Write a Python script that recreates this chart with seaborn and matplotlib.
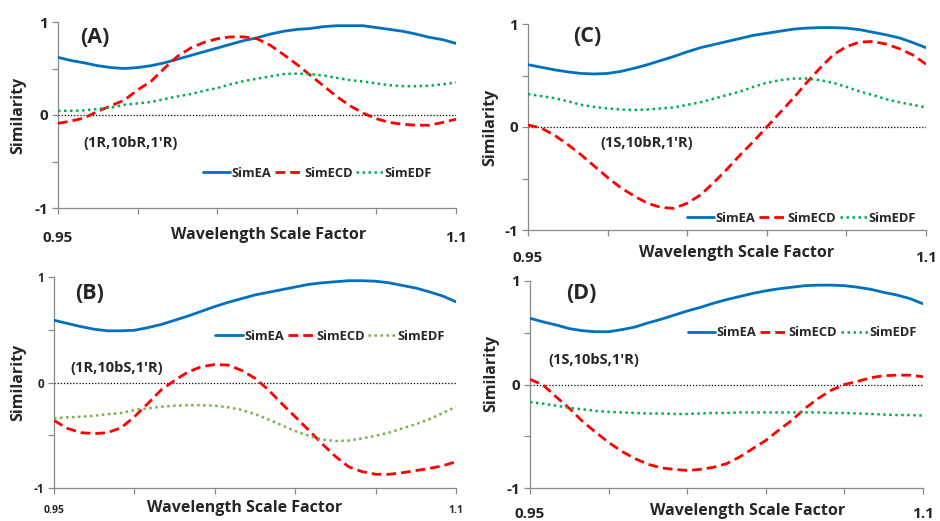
import matplotlib
matplotlib.use("Agg")
import matplotlib.pyplot as plt
from matplotlib.lines import Line2D
import seaborn as sns
import pandas as pd

sns.set_theme(style="white")
plt.rcParams['font.family'] = ['Open Sans', 'DejaVu Sans']

# ---------------- data ----------------
wavelength = [0.950, 0.955, 0.960, 0.965, 0.970, 0.975, 0.980, 0.985, 0.990, 0.995,
              1.000, 1.005, 1.010, 1.015, 1.020, 1.025, 1.030, 1.035, 1.040, 1.045,
              1.050, 1.055, 1.060, 1.065, 1.070, 1.075, 1.080, 1.085, 1.090, 1.095, 1.100]
series_names = ["SimEA", "SimECD", "SimEDF"]

a_ea = [0.62, 0.585, 0.56, 0.53, 0.51, 0.50, 0.51, 0.53, 0.56, 0.60, 0.64, 0.68, 0.72, 0.76, 0.80, 0.83,
        0.87, 0.90, 0.92, 0.93, 0.95, 0.96, 0.96, 0.96, 0.94, 0.92, 0.90, 0.87, 0.835, 0.81, 0.77]
a_ecd = [-0.09, -0.065, -0.03, 0.04, 0.10, 0.16, 0.27, 0.36, 0.50, 0.63, 0.72, 0.78, 0.82, 0.84, 0.84, 0.82,
         0.75, 0.65, 0.545, 0.43, 0.315, 0.20, 0.10, 0.02, -0.04, -0.08, -0.10, -0.11, -0.11, -0.08, -0.045]
a_edf = [0.045, 0.045, 0.05, 0.065, 0.08, 0.11, 0.125, 0.14, 0.17, 0.20, 0.225, 0.26, 0.29, 0.33, 0.365, 0.39,
         0.415, 0.44, 0.445, 0.44, 0.425, 0.40, 0.375, 0.36, 0.34, 0.32, 0.31, 0.31, 0.315, 0.33, 0.35]

b_ea = [0.59, 0.56, 0.53, 0.505, 0.49, 0.49, 0.495, 0.52, 0.55, 0.59, 0.63, 0.675, 0.72, 0.76, 0.795, 0.83,
        0.855, 0.88, 0.905, 0.93, 0.945, 0.955, 0.965, 0.965, 0.96, 0.945, 0.92, 0.895, 0.86, 0.82, 0.765]
b_ecd = [-0.36, -0.435, -0.475, -0.485, -0.475, -0.43, -0.325, -0.20, -0.07, 0.02, 0.10, 0.15, 0.17, 0.165,
         0.115, 0.04, -0.07, -0.20, -0.325, -0.45, -0.58, -0.70, -0.80, -0.845, -0.87, -0.87, -0.855, -0.835,
         -0.815, -0.79, -0.75]
b_edf = [-0.34, -0.33, -0.325, -0.315, -0.30, -0.29, -0.26, -0.245, -0.23, -0.22, -0.215, -0.215, -0.22,
         -0.235, -0.26, -0.30, -0.35, -0.405, -0.46, -0.505, -0.54, -0.555, -0.55, -0.53, -0.505, -0.475,
         -0.435, -0.395, -0.35, -0.29, -0.23]

c_ea = [0.605, 0.58, 0.555, 0.535, 0.52, 0.515, 0.52, 0.54, 0.57, 0.605, 0.645, 0.685, 0.73, 0.77, 0.80, 0.83,
        0.86, 0.89, 0.91, 0.93, 0.95, 0.96, 0.965, 0.965, 0.96, 0.945, 0.92, 0.895, 0.865, 0.82, 0.77]
c_ecd = [0.02, -0.01, -0.08, -0.17, -0.27, -0.38, -0.49, -0.59, -0.67, -0.74, -0.78, -0.79, -0.74, -0.66,
         -0.54, -0.41, -0.27, -0.14, 0.0, 0.14, 0.28, 0.43, 0.57, 0.70, 0.78, 0.825, 0.83, 0.805, 0.76, 0.70, 0.61]
c_edf = [0.32, 0.30, 0.28, 0.25, 0.215, 0.195, 0.18, 0.17, 0.165, 0.17, 0.18, 0.19, 0.215, 0.24, 0.275, 0.31,
         0.345, 0.39, 0.43, 0.455, 0.47, 0.47, 0.455, 0.43, 0.39, 0.345, 0.31, 0.27, 0.24, 0.215, 0.19]

d_ea = [0.64, 0.605, 0.575, 0.54, 0.52, 0.51, 0.51, 0.53, 0.555, 0.595, 0.63, 0.67, 0.71, 0.745, 0.785, 0.82,
        0.85, 0.88, 0.905, 0.925, 0.94, 0.955, 0.96, 0.96, 0.955, 0.94, 0.92, 0.89, 0.865, 0.83, 0.78]
d_ecd = [0.05, -0.005, -0.12, -0.23, -0.355, -0.46, -0.56, -0.645, -0.715, -0.77, -0.805, -0.82, -0.83, -0.82,
         -0.80, -0.765, -0.70, -0.62, -0.54, -0.44, -0.345, -0.23, -0.135, -0.055, 0.0, 0.03, 0.065, 0.085,
         0.09, 0.09, 0.075]
d_edf = [-0.17, -0.185, -0.205, -0.225, -0.24, -0.255, -0.265, -0.27, -0.275, -0.28, -0.28, -0.285, -0.285,
         -0.28, -0.275, -0.275, -0.27, -0.27, -0.27, -0.27, -0.27, -0.27, -0.27, -0.275, -0.275, -0.28, -0.285,
         -0.29, -0.295, -0.295, -0.30]

panel_labels = ["(A)", "(B)", "(C)", "(D)"]
isomer_labels = ["(1R,10bR,1'R)", "(1R,10bS,1'R)", "(1S,10bR,1'R)", "(1S,10bS,1'R)"]
x_tick_values = [0.95, 0.98, 1.01, 1.04, 1.07, 1.10]
x_tick_labels = ["0.95", "", "", "", "", "1.1"]
y_tick_values = [-1, -0.5, 0, 0.5, 1]
y_tick_labels = ["-1", "", "0", "", "1"]

panels = {
    "(A)": (a_ea, a_ecd, a_edf),
    "(B)": (b_ea, b_ecd, b_edf),
    "(C)": (c_ea, c_ecd, c_edf),
    "(D)": (d_ea, d_ecd, d_edf),
}

# ---------------- layout (pixels) ----------------
W, H = 940, 521
layout = {
    # x0, x1, ytop, ybot
    "(A)": (58, 456, 22, 208),
    "(B)": (54, 456, 277, 488),
    "(C)": (528, 926, 24, 230),
    "(D)": (530, 923, 281, 488),
}
style = {
    "(A)": dict(xtick_fs=11, xtick_pad=12.5, ytick_fs=11, xlab=(0.528, -0.145), ylab=(-0.10, 0.5),
                leg=(0.652, 0.188), pl=(0.093, 0.914), iso=(0.182, 0.349), edf_color="#00B050"),
    "(B)": dict(xtick_fs=7.5, xtick_pad=8.5, ytick_fs=8.5, xlab=(0.475, -0.095), ylab=(-0.09, 0.5),
                leg=(0.687, 0.72), pl=(0.088, 0.924), iso=(0.157, 0.569), edf_color="#77B144"),
    "(C)": dict(xtick_fs=11, xtick_pad=11, ytick_fs=11, xlab=(0.523, -0.112), ylab=(-0.095, 0.5),
                leg=(0.687, 0.058), pl=(0.15, 0.937), iso=(0.299, 0.422), edf_color="#00B050"),
    "(D)": dict(xtick_fs=11, xtick_pad=10, ytick_fs=11, xlab=(0.555, -0.11), ylab=(-0.099, 0.556),
                leg=(0.693, 0.749), pl=(0.131, 0.942), iso=(0.163, 0.618), edf_color="#00B050"),
}

blue = "#0070C0"
red = "#FF0000"

fig = plt.figure(figsize=(W / 100, H / 100), dpi=100)
fig.patch.set_facecolor("white")

for i, key in enumerate(panel_labels):
    x0, x1, yt, yb = layout[key]
    ax = fig.add_axes([x0 / W, (H - yb) / H, (x1 - x0) / W, (yb - yt) / H])
    st = style[key]
    ea, ecd, edf = panels[key]
    df = pd.DataFrame({"x": wavelength, "SimEA": ea, "SimECD": ecd, "SimEDF": edf})

    ax.axhline(0, color="black", lw=0.9, ls=(0, (1, 1.5)), zorder=1)
    sns.lineplot(data=df, x="x", y="SimEA", ax=ax, color=blue, lw=2.0, zorder=3)
    sns.lineplot(data=df, x="x", y="SimECD", ax=ax, color=red, lw=2.0, zorder=3)
    ax.lines[-1].set_dashes([3.5, 1.8])
    sns.lineplot(data=df, x="x", y="SimEDF", ax=ax, color=st["edf_color"], lw=1.8, zorder=3)
    ax.lines[-1].set_dashes([1, 1.4])

    ax.set_xlim(0.95, 1.10)
    ax.set_ylim(-1, 1)
    ax.set_xticks(x_tick_values)
    ax.set_xticklabels(x_tick_labels, fontsize=st["xtick_fs"], fontweight="bold")
    ax.set_yticks(y_tick_values)
    ax.set_yticklabels(y_tick_labels, fontsize=st["ytick_fs"], fontweight="bold")
    ax.tick_params(axis="x", direction="out", length=4, width=0.9, color="#898989",
                   pad=st["xtick_pad"], bottom=True)
    ax.tick_params(axis="y", direction="out", length=4, width=0.9, color="#898989",
                   pad=3, left=True)
    for s in ["top", "right"]:
        ax.spines[s].set_visible(False)
    for s in ["left", "bottom"]:
        ax.spines[s].set_color("#898989")
        ax.spines[s].set_linewidth(0.9)
    ax.set_facecolor("white")

    ax.set_xlabel("Wavelength Scale Factor", fontsize=11.5, fontweight="bold", va="center")
    ax.xaxis.set_label_coords(*st["xlab"])
    ax.set_ylabel("Similarity", fontsize=11.5, fontweight="bold", va="center")
    ax.yaxis.set_label_coords(*st["ylab"])

    ax.text(*st["pl"], key, transform=ax.transAxes, fontsize=15.5, fontweight="bold",
            ha="center", va="center")
    ax.text(*st["iso"], isomer_labels[i], transform=ax.transAxes, fontsize=10.5,
            fontweight="bold", ha="center", va="center")

    handles = [
        Line2D([], [], color=blue, lw=2.0),
        Line2D([], [], color=red, lw=2.0, dashes=[3.5, 1.8]),
        Line2D([], [], color=st["edf_color"], lw=1.8, dashes=[1, 1.4]),
    ]
    leg = ax.legend(handles, series_names, ncol=3, frameon=False, loc="center",
                    bbox_to_anchor=st["leg"], fontsize=9.3, handlelength=2.1,
                    handletextpad=0.15, columnspacing=0.25, borderpad=0)
    for t in leg.get_texts():
        t.set_fontweight("bold")

fig.savefig("out.png", dpi=100, facecolor="white")
